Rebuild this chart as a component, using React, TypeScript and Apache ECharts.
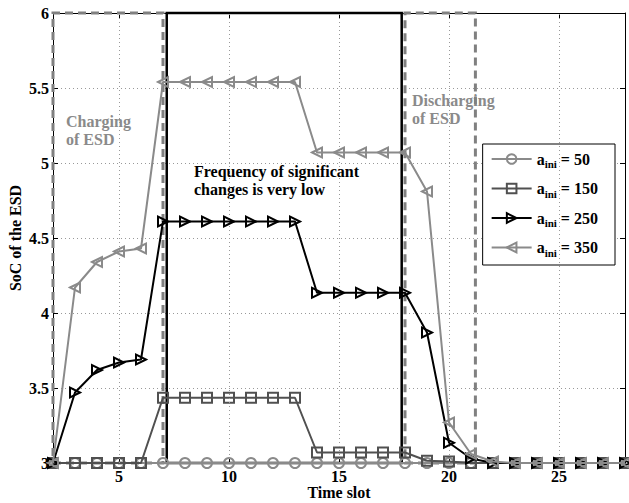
import React, { useEffect, useRef } from "react";
import * as echarts from "echarts";

const slots = [2, 3, 4, 5, 6, 7, 8, 9, 10, 11, 12, 13, 14, 15, 16, 17, 18, 19, 20, 21, 22, 23, 24, 25, 26, 27, 28];
const soc50 = [3, 3, 3, 3, 3, 3, 3, 3, 3, 3, 3, 3, 3, 3, 3, 3, 3, 3, 3, 3, 3, 3, 3, 3, 3, 3, 3];
const soc150 = [3, 3, 3, 3, 3, 3.435, 3.435, 3.435, 3.435, 3.435, 3.435, 3.435, 3.07, 3.07, 3.07, 3.07, 3.07, 3.015, 3.01, 3.0, 3, 3, 3, 3, 3, 3, 3];
const soc250 = [3, 3.47, 3.62, 3.67, 3.69, 4.61, 4.61, 4.61, 4.61, 4.61, 4.61, 4.61, 4.135, 4.135, 4.135, 4.135, 4.135, 3.87, 3.135, 3.03, 3, 3, 3, 3, 3, 3, 3];
const soc350 = [3, 4.17, 4.34, 4.41, 4.43, 5.54, 5.54, 5.54, 5.54, 5.54, 5.54, 5.54, 5.07, 5.07, 5.07, 5.07, 5.07, 4.81, 3.27, 3.06, 3.01, 3, 3, 3, 3, 3, 3];
const xTicks = [5, 10, 15, 20, 25];
const chargingBox = [2, 7];
const lowChangeBox = [7.17, 17.85];
const dischargingBox = [18, 21.2];

const FONT = "Liberation Serif";
const LIGHT = "#8a8a8a";
const DARK = "#505050";

function mk(name: string, data: number[], color: string, symbol: string, rotate: number, z: number) {
  return {
    name,
    type: "line",
    data: slots.map((x, i) => [x, data[i]]),
    symbol,
    symbolSize: 10,
    symbolRotate: rotate,
    z,
    lineStyle: { color, width: 2 },
    itemStyle: { color: "rgba(0,0,0,0)", borderColor: color, borderWidth: 2 },
  };
}

export default function App() {
  const ref = useRef<HTMLDivElement>(null);
  useEffect(() => {
    if (!ref.current) return;
    const chart = echarts.init(ref.current, undefined, { renderer: "svg" });
    const axisFont = { fontFamily: FONT, fontWeight: "bold", fontSize: 16, color: "#000" };
    chart.setOption({
      animation: false,
      grid: { left: 53, right: 4, top: 13, bottom: 40, show: false, containLabel: false, outerBoundsMode: "none" },
      xAxis: [
        {
          type: "value",
          min: 2,
          max: 28,
          interval: 1,
          name: "Time slot",
          nameLocation: "middle",
          nameGap: 21,
          nameMoveOverlap: false,
          nameTextStyle: { ...axisFont, verticalAlign: "top" },
          axisLine: { lineStyle: { color: "#000", width: 1 } },
          axisTick: { inside: true, length: 5, customValues: xTicks, lineStyle: { color: "#000" } },
          axisLabel: { customValues: xTicks, ...axisFont, margin: 5 },
          splitLine: { show: false },
        },
        {
          type: "value",
          position: "top",
          min: 2,
          max: 28,
          interval: 1,
          axisLine: { show: true, onZero: false, lineStyle: { color: "#000", width: 1 } },
          axisTick: { inside: true, length: 5, customValues: xTicks, lineStyle: { color: "#000" } },
          axisLabel: { show: false },
          splitLine: { show: false },
        },
      ],
      yAxis: [
        {
          type: "value",
          min: 3,
          max: 6,
          interval: 0.5,
          name: "SoC of the ESD",
          nameLocation: "middle",
          nameGap: 30,
          nameMoveOverlap: false,
          nameTextStyle: axisFont,
          axisLine: { show: true, lineStyle: { color: "#000", width: 1 } },
          axisTick: { show: true, inside: true, length: 5, lineStyle: { color: "#000" } },
          axisLabel: { ...axisFont, margin: 4 },
          splitLine: { show: true, lineStyle: { color: "#999", type: [1, 3], width: 1 } },
        },
        {
          type: "value",
          position: "right",
          min: 3,
          max: 6,
          interval: 0.5,
          axisLine: { show: true, onZero: false, lineStyle: { color: "#000", width: 1 } },
          axisTick: { show: true, inside: true, length: 5, lineStyle: { color: "#000" } },
          axisLabel: { show: false },
          splitLine: { show: false },
        },
      ],
      legend: {
        orient: "vertical",
        right: 14,
        top: 144,
        data: ["50", "150", "250", "350"],
        backgroundColor: "#fff",
        borderColor: "#000",
        borderWidth: 1,
        borderRadius: 0,
        padding: [7, 17, 7, 8],
        itemGap: 11,
        itemWidth: 40,
        itemHeight: 12,
        formatter: (name: string) => `a{sub|ini} = ${name}`,
        textStyle: {
          fontFamily: FONT,
          fontWeight: "bold",
          fontSize: 16,
          color: "#000",
          rich: {
            sub: { fontFamily: FONT, fontWeight: "bold", fontSize: 11, color: "#000", padding: [10, 0, 0, 0] },
          },
        },
      },
      series: [
        {
          name: "guides",
          type: "line",
          data: [],
          z: 1,
          silent: true,
          markLine: {
            silent: true,
            symbol: "none",
            label: { show: false },
            lineStyle: { color: "#999", type: [1, 3], width: 1 },
            data: xTicks.map((v) => ({ xAxis: v })),
          },
          markArea: {
            silent: true,
            data: [
              [
                { xAxis: chargingBox[0], yAxis: 3, itemStyle: { color: "rgba(0,0,0,0)", borderColor: "#808080", borderWidth: 3, borderType: [8, 5] } },
                { xAxis: chargingBox[1], yAxis: 6 },
              ],
              [
                { xAxis: dischargingBox[0], yAxis: 3, itemStyle: { color: "rgba(0,0,0,0)", borderColor: "#808080", borderWidth: 3, borderType: [8, 5] } },
                { xAxis: dischargingBox[1], yAxis: 6 },
              ],
              [
                { xAxis: lowChangeBox[0], yAxis: 3, itemStyle: { color: "rgba(0,0,0,0)", borderColor: "#000", borderWidth: 2.5 } },
                { xAxis: lowChangeBox[1], yAxis: 6 },
              ],
            ],
          },
        },
        mk("50", soc50, LIGHT, "circle", 0, 3),
        mk("150", soc150, DARK, "rect", 0, 4),
        mk("250", soc250, "#000", "triangle", -90, 5),
        mk("350", soc350, LIGHT, "triangle", 90, 6),
      ],
      graphic: [
        {
          type: "text",
          left: 66,
          top: 112,
          style: { text: "Charging\nof ESD", fill: "#8a8a8a", fontFamily: FONT, fontWeight: "bold", fontSize: 16, lineHeight: 18 },
        },
        {
          type: "text",
          left: 412,
          top: 91,
          style: { text: "Discharging\nof ESD", fill: "#8a8a8a", fontFamily: FONT, fontWeight: "bold", fontSize: 16, lineHeight: 18 },
        },
        {
          type: "text",
          left: 194,
          top: 162,
          style: { text: "Frequency of significant\nchanges is very low", fill: "#000", fontFamily: FONT, fontWeight: "bold", fontSize: 16, lineHeight: 18 },
        },
      ],
    });
    return () => chart.dispose();
  }, []);
  return <div ref={ref} style={{ width: 629, height: 503, position: "absolute", left: 0, top: 0, background: "#fff" }} />;
}
